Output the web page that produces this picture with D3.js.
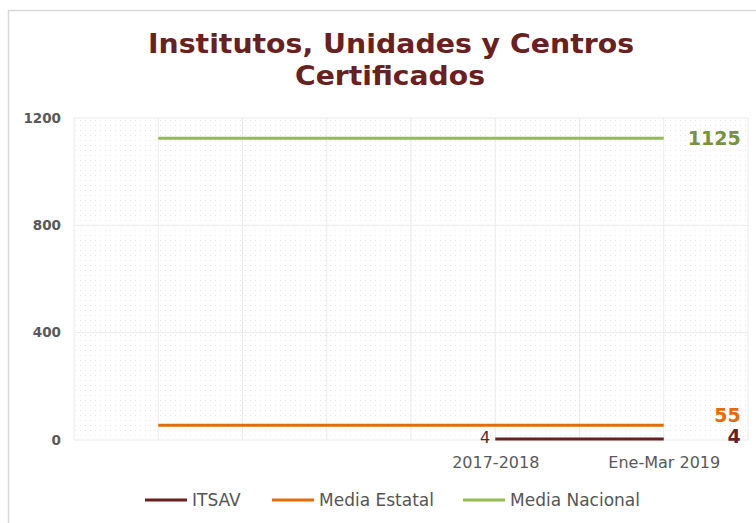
<!DOCTYPE html>
<html><head><meta charset="utf-8">
<script src="https://cdn.jsdelivr.net/npm/d3@7"></script>
<style>body{margin:0;background:#fff;}svg{display:block;}</style>
</head><body>
<script>
const categories = ["", "", "", "", "", "2017-2018", "", "Ene-Mar 2019", ""];
const seriesNames = ["ITSAV", "Media Estatal", "Media Nacional"];
const itsav = [null, null, null, null, null, 4, 4, 4, null];
const mediaEstatal = [null, 55, 55, 55, 55, 55, 55, 55, null];
const mediaNacional = [null, 1125, 1125, 1125, 1125, 1125, 1125, 1125, null];
const yTicks = [0, 400, 800, 1200];
const colors = ["#6b1f1f", "#e36c09", "#92bd4f"];
const labelColors = ["#6b1f1f", "#e36c09", "#77933c"];

const W = 756, H = 523;
const svg = d3.select("body").append("svg").attr("width", W).attr("height", H);
const defs = svg.append("defs");
const pat = defs.append("pattern").attr("id","dots").attr("width",5).attr("height",5).attr("patternUnits","userSpaceOnUse");
pat.append("rect").attr("x",0).attr("y",0).attr("width",1).attr("height",1).attr("fill","#e8e8e8");

// card border
svg.append("path").attr("d","M8.5,523 V10.5 H756").attr("fill","none").attr("stroke","#d9d9d9").attr("stroke-width",1.5);

svg.append("text").attr("x",391).attr("y",53).attr("text-anchor","middle")
  .attr("font-family","DejaVu Sans").attr("font-weight","bold").attr("font-size",27).attr("fill","#6b2020")
  .attr("textLength",486).attr("lengthAdjust","spacingAndGlyphs")
  .text("Institutos, Unidades y Centros");
svg.append("text").attr("x",390).attr("y",85).attr("text-anchor","middle")
  .attr("font-family","DejaVu Sans").attr("font-weight","bold").attr("font-size",27).attr("fill","#6b2020")
  .attr("textLength",190).attr("lengthAdjust","spacingAndGlyphs")
  .text("Certificados");

const x = d3.scalePoint().domain(d3.range(categories.length)).range([74, 748]);
const y = d3.scaleLinear().domain([0, 1200]).range([440, 118]);

svg.append("rect").attr("x",74).attr("y",118).attr("width",674).attr("height",322).attr("fill","url(#dots)");

const g = svg.append("g");
g.selectAll(".hg").data(yTicks).join("line")
  .attr("x1",74).attr("x2",748).attr("y1",d=>y(d)).attr("y2",d=>y(d))
  .attr("stroke","#ebebeb").attr("stroke-width",1);
g.selectAll(".vg").data(d3.range(categories.length)).join("line")
  .attr("x1",d=>x(d)).attr("x2",d=>x(d)).attr("y1",118).attr("y2",440)
  .attr("stroke","#ebebeb").attr("stroke-width",1);

// y axis labels
const yAxis = svg.append("g").attr("transform","translate(61,0)")
  .call(d3.axisLeft(y).tickValues(yTicks).tickFormat(d3.format("d")).tickSize(0).tickPadding(0));
yAxis.select(".domain").remove();
yAxis.selectAll("text").attr("font-family","DejaVu Sans").attr("font-weight","bold").attr("font-size",13.5).attr("fill","#595959");

// x axis labels
const xAxis = svg.append("g").attr("transform","translate(0,457)")
  .call(d3.axisBottom(x).tickFormat(i=>categories[i]).tickSize(0).tickPadding(0));
xAxis.select(".domain").remove();
xAxis.selectAll("text").attr("font-family","DejaVu Sans").attr("font-size",16).attr("fill","#595959");

const series = [itsav, mediaEstatal, mediaNacional];
const line = d3.line().defined(d=>d!=null).x((d,i)=>x(i)).y(d=>y(d));
series.forEach((s,k)=>{
  svg.append("path").datum(s).attr("d",line).attr("fill","none").attr("stroke",colors[k]).attr("stroke-width",3);
});

// end labels
const labelDy = [4, -3, 7];
series.forEach((s,k)=>{
  let last = -1; s.forEach((v,i)=>{ if(v!=null) last=i; });
  svg.append("text").attr("x",x(last)+77).attr("y",y(s[last])+labelDy[k]).attr("text-anchor","end")
    .attr("font-family","DejaVu Sans").attr("font-weight","bold").attr("font-size",19).attr("fill",labelColors[k])
    .text(s[last]);
});
// first label of ITSAV
{
  const first = itsav.findIndex(v=>v!=null);
  svg.append("text").attr("x",x(first)-5).attr("y",y(itsav[first])+4).attr("text-anchor","end")
    .attr("font-family","DejaVu Sans").attr("font-size",16).attr("fill","#6b1f1f").text(itsav[first]);
}

// legend
const legX = [145, 272, 463];
seriesNames.forEach((n,k)=>{
  svg.append("line").attr("x1",legX[k]).attr("x2",legX[k]+42).attr("y1",500).attr("y2",500)
    .attr("stroke",colors[k]).attr("stroke-width",3);
  svg.append("text").attr("x",legX[k]+47).attr("y",506).attr("font-family","DejaVu Sans").attr("font-size",17)
    .attr("fill","#555555").text(n);
});
</script>
</body></html>
